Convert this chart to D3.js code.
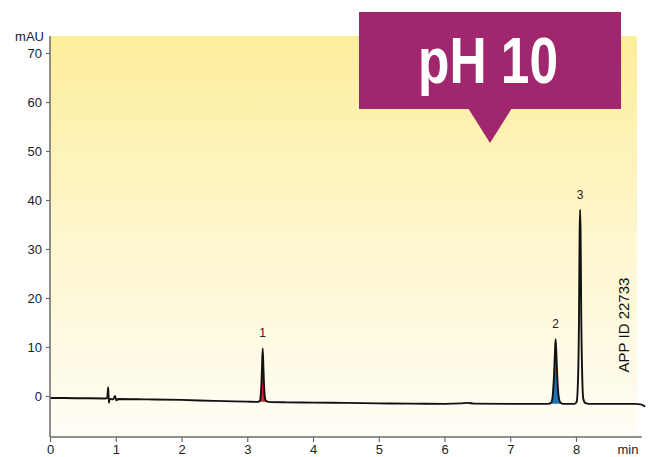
<!DOCTYPE html>
<html>
<head>
<meta charset="utf-8">
<script src="https://cdn.jsdelivr.net/npm/d3@7/dist/d3.min.js"></script>
<style>
  html, body { margin: 0; padding: 0; background: #fff; }
  svg { display: block; font-family: "Liberation Sans", Arial, Helvetica, sans-serif; }
</style>
</head>
<body>
<svg id="chart" width="651" height="457"></svg>
<script>
// Chromatogram trace: [time (min), absorbance (mAU)]
const baseline = [
  [0.00, -0.40], [0.40, -0.45], [0.84, -0.50], [0.87, -0.40], [0.885, 1.80], [0.895, -1.40],
  [0.91, -0.60], [0.96, -0.70], [0.99, 0.00], [1.01, -0.90], [1.04, -0.60], [1.50, -0.70],
  [2.00, -0.80], [2.50, -1.00], [3.00, -1.15], [3.15, -1.20]
];
const peak1 = [
  [3.15, -1.20], [3.19, -1.00], [3.21, 1.00], [3.225, 6.00], [3.235, 9.70],
  [3.245, 6.00], [3.26, 1.00], [3.28, -0.90], [3.32, -1.20]
];
const middle = [
  [3.32, -1.20], [3.60, -1.30], [4.00, -1.35], [4.50, -1.40], [5.00, -1.50], [5.50, -1.55],
  [6.00, -1.60], [6.25, -1.50], [6.35, -1.40], [6.45, -1.55], [7.00, -1.60], [7.40, -1.60],
  [7.58, -1.60]
];
const peak2 = [
  [7.58, -1.60], [7.62, -1.40], [7.645, 0.00], [7.665, 4.00], [7.68, 9.00], [7.69, 11.60],
  [7.70, 9.00], [7.715, 4.00], [7.735, 0.00], [7.76, -1.30], [7.80, -1.60]
];
const peak3 = [
  [7.80, -1.60], [7.98, -1.60], [8.01, -1.20], [8.03, 3.00], [8.045, 15.00], [8.055, 33.00],
  [8.062, 38.00], [8.07, 33.00], [8.08, 16.00], [8.095, 4.00], [8.11, -0.50], [8.14, -1.40],
  [8.20, -1.60]
];
const tail = [
  [8.20, -1.60], [8.50, -1.60], [8.90, -1.60], [8.98, -1.70], [9.02, -1.90], [9.05, -2.20]
];

// Peak annotations: [time, height, label]
const peakLabels = [[3.235, 9.7, "1"], [7.69, 11.6, "2"], [8.062, 38.0, "3"]];

const xTicks = [0, 1, 2, 3, 4, 5, 6, 7, 8];
const yTicks = [0, 10, 20, 30, 40, 50, 60, 70];
const xDomain = [0, 9];
const yDomain = [-8.37, 73.47];

const svg = d3.select("#chart");
const x = d3.scaleLinear().domain(xDomain).range([50, 641.75]);
const y = d3.scaleLinear().domain(yDomain).range([437, 36]);

// Background gradient of the plot area
const defs = svg.append("defs");
const grad = defs.append("linearGradient").attr("id", "bg").attr("x1", 0).attr("y1", 0).attr("x2", 0).attr("y2", 1);
grad.append("stop").attr("offset", "0%").attr("stop-color", "#fdee9b");
grad.append("stop").attr("offset", "50%").attr("stop-color", "#fef6cd");
grad.append("stop").attr("offset", "100%").attr("stop-color", "#fffdf6");

svg.append("rect")
  .attr("x", x(0)).attr("y", y(yDomain[1]))
  .attr("width", 637 - x(0)).attr("height", y(yDomain[0]) - y(yDomain[1]))
  .attr("fill", "url(#bg)");

// Filled peaks
const area = (pts, base) => d3.area()
  .x(d => x(d[0])).y0(y(base)).y1(d => y(d[1]))
  .curve(d3.curveMonotoneX)(pts);

svg.append("path").attr("d", area(peak1, -1.2)).attr("fill", "#d4202c");
svg.append("path").attr("d", area(peak2, -1.6)).attr("fill", "#1b72b5");

// Trace
const trace = [].concat(baseline, peak1.slice(1), middle.slice(1), peak2.slice(1), peak3.slice(1), tail.slice(1));
svg.append("path")
  .datum(trace)
  .attr("d", d3.line().x(d => x(d[0])).y(d => y(d[1])).curve(d3.curveMonotoneX))
  .attr("fill", "none")
  .attr("stroke", "#111")
  .attr("stroke-width", 1.9)
  .attr("stroke-linejoin", "round");

// Axes
const yAxis = d3.axisLeft(y).tickValues(yTicks).tickSize(4).tickPadding(4);
const gy = svg.append("g").attr("transform", `translate(${x(0)},0)`).call(yAxis);
const xAxis = d3.axisBottom(x).tickValues(xTicks).tickSize(5).tickPadding(3);
const gx = svg.append("g").attr("transform", `translate(0,${y(yDomain[0])})`).call(xAxis);

[gy, gx].forEach(g => {
  g.select(".domain").attr("stroke", "#6b6b6b").attr("stroke-width", 1.5);
  g.selectAll(".tick line").attr("stroke", "#6b6b6b").attr("stroke-width", 1.2);
  g.selectAll(".tick text").attr("fill", "#222").attr("font-size", 13)
    .attr("font-family", "Liberation Sans, Arial, sans-serif");
});
gy.select(".domain").attr("d", `M0,${y(yDomain[1])}V${y(yDomain[0])}`);
gx.select(".domain").attr("d", `M${x(0)},0H${x(9)}`);

// Axis units
svg.append("text").attr("x", 44).attr("y", 41).attr("text-anchor", "end")
  .attr("font-size", 13).attr("fill", "#222").text("mAU");
svg.append("text").attr("x", 628).attr("y", 454).attr("text-anchor", "middle")
  .attr("font-size", 13).attr("fill", "#222").text("min");

// Peak numbers
svg.selectAll(".plabel").data(peakLabels).enter().append("text")
  .attr("class", "plabel")
  .attr("x", d => x(d[0]))
  .attr("y", d => y(d[1]) - 11)
  .attr("text-anchor", "middle")
  .attr("font-size", 12).attr("fill", "#222")
  .text(d => d[2]);

// Application ID
svg.append("text")
  .attr("transform", "translate(629,325) rotate(-90)")
  .attr("text-anchor", "middle")
  .attr("font-size", 15).attr("fill", "#111")
  .text("APP ID 22733");

// pH banner
const banner = svg.append("g");
banner.append("rect").attr("x", 359).attr("y", 12).attr("width", 262).attr("height", 97).attr("fill", "#a0266d");
banner.append("path").attr("d", "M468,108 L512,108 L490,143 Z").attr("fill", "#a0266d");
banner.append("text")
  .attr("x", 488).attr("y", 83)
  .attr("text-anchor", "middle")
  .attr("font-family", "Liberation Sans Narrow, Arial Narrow, Liberation Sans, Arial, sans-serif")
  .attr("font-weight", "bold")
  .attr("font-size", 64)
  .attr("textLength", 140).attr("lengthAdjust", "spacingAndGlyphs")
  .attr("fill", "#fff")
  .text("pH 10");
</script>
</body>
</html>
